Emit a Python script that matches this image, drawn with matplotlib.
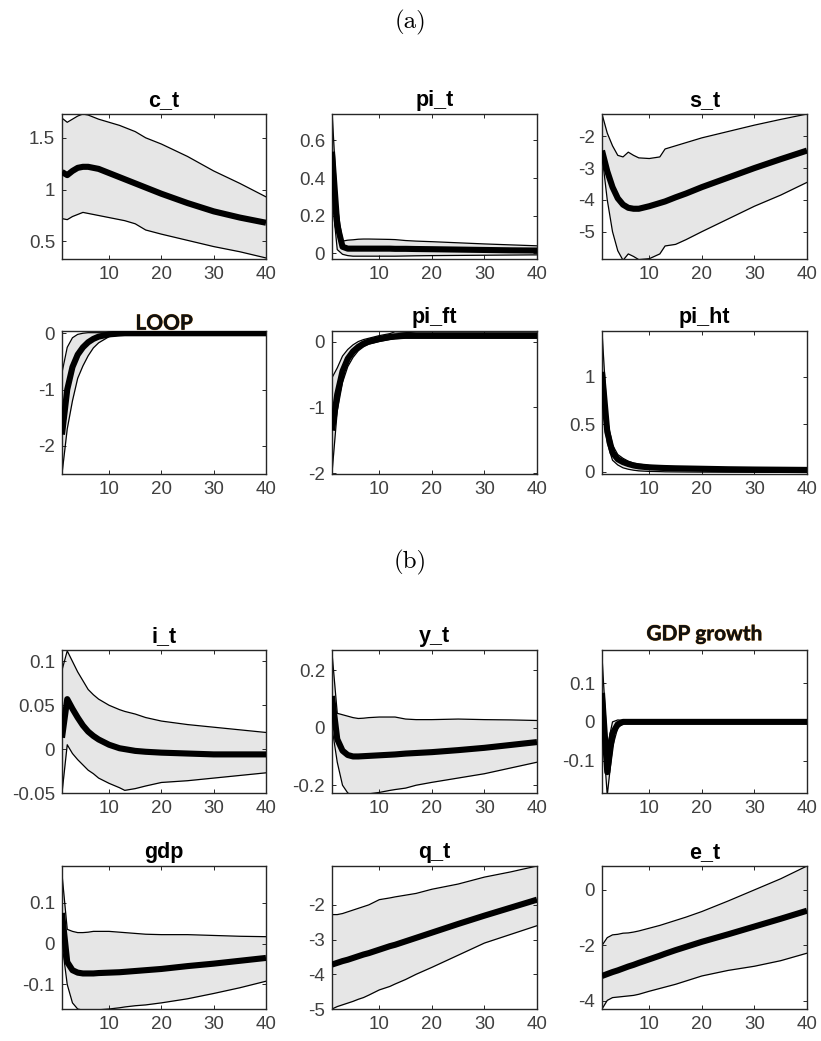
import matplotlib
matplotlib.use("Agg")
import matplotlib.pyplot as plt
import matplotlib.patheffects as pe

x = [1, 2, 3, 4, 5, 6, 7, 8, 10, 12, 13, 15, 17, 20, 25, 30, 35, 40]

# ---- panel (a) ----
c_t_med = [1.17, 1.14, 1.18, 1.21, 1.22, 1.22, 1.21, 1.20, 1.16, 1.12, 1.10, 1.06, 1.02, 0.96, 0.87, 0.79, 0.73, 0.68]
c_t_up = [1.69, 1.65, 1.68, 1.71, 1.73, 1.72, 1.70, 1.68, 1.65, 1.62, 1.60, 1.56, 1.50, 1.44, 1.32, 1.18, 1.06, 0.93]
c_t_lo = [0.72, 0.71, 0.74, 0.76, 0.78, 0.77, 0.76, 0.75, 0.73, 0.71, 0.70, 0.67, 0.61, 0.57, 0.51, 0.45, 0.40, 0.34]

pi_t_med = [0.54, 0.15, 0.035, 0.025, 0.025, 0.025, 0.025, 0.025, 0.025, 0.025, 0.024, 0.024, 0.023, 0.022, 0.020, 0.018, 0.016, 0.015]
pi_t_up = [0.76, 0.25, 0.065, 0.070, 0.072, 0.075, 0.076, 0.076, 0.075, 0.074, 0.073, 0.068, 0.065, 0.062, 0.056, 0.050, 0.045, 0.040]
pi_t_lo = [0.30, 0.02, -0.005, -0.012, -0.015, -0.015, -0.015, -0.015, -0.015, -0.015, -0.015, -0.014, -0.013, -0.012, -0.011, -0.010, -0.009, -0.008]

s_t_med = [-2.45, -3.10, -3.60, -3.95, -4.15, -4.25, -4.28, -4.28, -4.20, -4.10, -4.05, -3.92, -3.80, -3.60, -3.30, -3.00, -2.72, -2.45]
s_t_up = [-1.30, -1.90, -2.30, -2.60, -2.65, -2.50, -2.60, -2.68, -2.70, -2.65, -2.40, -2.30, -2.20, -2.05, -1.85, -1.65, -1.47, -1.30]
s_t_lo = [-2.60, -4.00, -5.00, -5.60, -5.90, -5.70, -5.78, -5.88, -5.85, -5.70, -5.45, -5.40, -5.25, -5.00, -4.60, -4.20, -3.85, -3.45]

loop_med = [-1.80, -1.00, -0.60, -0.38, -0.25, -0.16, -0.10, -0.06, -0.02, -0.005, 0.0, 0.0, 0.0, 0.0, 0.0, 0.0, 0.0, 0.0]
loop_up = [-0.70, -0.25, -0.08, -0.02, 0.0, 0.01, 0.01, 0.01, 0.01, 0.01, 0.01, 0.01, 0.01, 0.01, 0.01, 0.01, 0.01, 0.01]
loop_lo = [-2.50, -1.70, -1.20, -0.80, -0.58, -0.40, -0.26, -0.17, -0.06, -0.03, -0.02, -0.01, -0.005, -0.005, -0.005, -0.005, -0.005, -0.005]

pi_ft_med = [-1.35, -0.80, -0.45, -0.26, -0.15, -0.08, -0.03, 0.0, 0.04, 0.07, 0.08, 0.09, 0.09, 0.09, 0.09, 0.09, 0.09, 0.09]
pi_ft_up = [-0.55, -0.40, -0.22, -0.12, -0.05, 0.0, 0.03, 0.05, 0.09, 0.12, 0.15, 0.14, 0.13, 0.13, 0.13, 0.13, 0.13, 0.13]
pi_ft_lo = [-2.00, -1.05, -0.62, -0.38, -0.24, -0.14, -0.08, -0.04, 0.0, 0.03, 0.04, 0.05, 0.05, 0.05, 0.05, 0.05, 0.05, 0.05]

pi_ht_med = [1.05, 0.42, 0.20, 0.13, 0.10, 0.08, 0.065, 0.055, 0.045, 0.040, 0.038, 0.035, 0.033, 0.030, 0.025, 0.022, 0.020, 0.018]
pi_ht_up = [1.48, 0.55, 0.28, 0.18, 0.14, 0.11, 0.09, 0.08, 0.065, 0.058, 0.055, 0.050, 0.048, 0.045, 0.040, 0.035, 0.032, 0.030]
pi_ht_lo = [0.75, 0.30, 0.12, 0.07, 0.04, 0.025, 0.015, 0.008, 0.002, 0.0, -0.002, -0.003, -0.004, -0.005, -0.006, -0.007, -0.008, -0.010]

# ---- panel (b) ----
i_t_med = [0.013, 0.057, 0.046, 0.036, 0.027, 0.020, 0.015, 0.011, 0.005, 0.001, 0.0, -0.002, -0.003, -0.004, -0.005, -0.006, -0.006, -0.006]
i_t_up = [0.090, 0.112, 0.100, 0.088, 0.078, 0.068, 0.062, 0.057, 0.050, 0.045, 0.043, 0.040, 0.036, 0.032, 0.028, 0.025, 0.022, 0.019]
i_t_lo = [-0.050, 0.005, -0.005, -0.012, -0.018, -0.024, -0.028, -0.033, -0.039, -0.044, -0.047, -0.045, -0.042, -0.038, -0.036, -0.033, -0.030, -0.027]

y_t_med = [0.11, -0.04, -0.08, -0.095, -0.10, -0.10, -0.099, -0.098, -0.096, -0.094, -0.093, -0.090, -0.088, -0.085, -0.078, -0.070, -0.060, -0.050]
y_t_up = [0.26, 0.05, 0.045, 0.040, 0.035, 0.032, 0.033, 0.035, 0.037, 0.037, 0.037, 0.030, 0.028, 0.028, 0.030, 0.028, 0.027, 0.025]
y_t_lo = [0.0, -0.12, -0.20, -0.227, -0.235, -0.235, -0.232, -0.230, -0.225, -0.218, -0.215, -0.210, -0.200, -0.190, -0.175, -0.160, -0.140, -0.120]

gdpg_med = [0.075, -0.13, -0.03, -0.006, 0.0, 0.0, 0.0, 0.0, 0.0, 0.0, 0.0, 0.0, 0.0, 0.0, 0.0, 0.0, 0.0, 0.0]
gdpg_up = [0.17, -0.065, 0.0, 0.005, 0.004, 0.003, 0.002, 0.002, 0.002, 0.002, 0.002, 0.002, 0.002, 0.002, 0.002, 0.002, 0.002, 0.002]
gdpg_lo = [0.0, -0.19, -0.065, -0.015, -0.005, -0.002, -0.002, -0.002, -0.002, -0.002, -0.002, -0.002, -0.002, -0.002, -0.002, -0.002, -0.002, -0.002]

gdp_med = [0.075, -0.045, -0.065, -0.071, -0.073, -0.073, -0.073, -0.072, -0.071, -0.070, -0.069, -0.067, -0.065, -0.062, -0.055, -0.049, -0.042, -0.035]
gdp_up = [0.17, 0.035, 0.030, 0.027, 0.027, 0.028, 0.030, 0.030, 0.030, 0.028, 0.027, 0.025, 0.023, 0.022, 0.022, 0.020, 0.018, 0.017]
gdp_lo = [0.0, -0.10, -0.145, -0.16, -0.163, -0.163, -0.163, -0.162, -0.160, -0.157, -0.155, -0.152, -0.150, -0.145, -0.135, -0.122, -0.108, -0.092]

q_t_med = [-3.72, -3.67, -3.62, -3.58, -3.53, -3.48, -3.43, -3.39, -3.29, -3.19, -3.15, -3.05, -2.95, -2.80, -2.55, -2.31, -2.08, -1.85]
q_t_up = [-2.28, -2.28, -2.25, -2.20, -2.15, -2.10, -2.05, -2.00, -1.85, -1.80, -1.77, -1.72, -1.67, -1.55, -1.40, -1.20, -1.05, -0.88]
q_t_lo = [-5.00, -4.93, -4.88, -4.83, -4.78, -4.72, -4.67, -4.60, -4.45, -4.35, -4.28, -4.15, -4.00, -3.80, -3.45, -3.10, -2.85, -2.60]

e_t_med = [-3.10, -3.03, -2.96, -2.90, -2.83, -2.76, -2.70, -2.63, -2.50, -2.37, -2.30, -2.17, -2.05, -1.87, -1.60, -1.32, -1.04, -0.75]
e_t_up = [-2.00, -1.72, -1.62, -1.60, -1.56, -1.55, -1.52, -1.48, -1.38, -1.28, -1.22, -1.10, -0.98, -0.78, -0.40, 0.0, 0.40, 0.86]
e_t_lo = [-4.29, -3.98, -3.88, -3.86, -3.84, -3.82, -3.80, -3.76, -3.65, -3.55, -3.50, -3.40, -3.28, -3.10, -2.90, -2.75, -2.55, -2.28]

titles = ["c_t", "pi_t", "s_t", "LOOP", "pi_ft", "pi_ht",
          "i_t", "y_t", "GDP growth", "gdp", "q_t", "e_t"]
series = [(c_t_med, c_t_up, c_t_lo), (pi_t_med, pi_t_up, pi_t_lo), (s_t_med, s_t_up, s_t_lo),
          (loop_med, loop_up, loop_lo), (pi_ft_med, pi_ft_up, pi_ft_lo), (pi_ht_med, pi_ht_up, pi_ht_lo),
          (i_t_med, i_t_up, i_t_lo), (y_t_med, y_t_up, y_t_lo), (gdpg_med, gdpg_up, gdpg_lo),
          (gdp_med, gdp_up, gdp_lo), (q_t_med, q_t_up, q_t_lo), (e_t_med, e_t_up, e_t_lo)]
ylims = [(0.33, 1.73), (-0.03, 0.74), (-5.86, -1.3),
         (-2.5, 0.04), (-2.01, 0.16), (-0.025, 1.48),
         (-0.05, 0.113), (-0.227, 0.27), (-0.184, 0.186),
         (-0.16, 0.19), (-5.0, -0.88), (-4.29, 0.86)]
yticks = [[0.5, 1, 1.5], [0, 0.2, 0.4, 0.6], [-5, -4, -3, -2],
          [-2, -1, 0], [-2, -1, 0], [0, 0.5, 1],
          [-0.05, 0, 0.05, 0.1], [-0.2, 0, 0.2], [-0.1, 0, 0.1],
          [-0.1, 0, 0.1], [-5, -4, -3, -2], [-4, -2, 0]]
yticklabels = [["0.5", "1", "1.5"], ["0", "0.2", "0.4", "0.6"], ["-5", "-4", "-3", "-2"],
               ["-2", "-1", "0"], ["-2", "-1", "0"], ["0", "0.5", "1"],
               ["-0.05", "0", "0.05", "0.1"], ["-0.2", "0", "0.2"], ["-0.1", "0", "0.1"],
               ["-0.1", "0", "0.1"], ["-5", "-4", "-3", "-2"], ["-4", "-2", "0"]]
xticks = [10, 20, 30, 40]
xticklabels = ["10", "20", "30", "40"]

W, H = 821, 1041
fig = plt.figure(figsize=(W / 100, H / 100), dpi=100)

cols = [(62, 266), (332, 537), (602, 807)]
rows = [(114, 259), (331, 474), (650, 793), (866, 1009)]

axcol = "#262626"
txtcol = "#404040"

for k in range(12):
    r, c = divmod(k, 3)
    (l, rr), (t, b) = cols[c], rows[r]
    ax = fig.add_axes([l / W, 1 - b / H, (rr - l) / W, (b - t) / H])
    med, up, lo = series[k]
    ax.fill_between(x, lo, up, color="#e6e6e6", lw=0, zorder=1)
    ax.plot(x, up, color="black", lw=0.9, zorder=2)
    ax.plot(x, lo, color="black", lw=0.9, zorder=2)
    ax.plot(x, med, color="black", lw=4.4, zorder=3, solid_capstyle="butt")
    ax.set_xlim(1, 40)
    ax.set_ylim(*ylims[k])
    ax.set_xticks(xticks)
    ax.set_xticklabels(xticklabels)
    ax.set_yticks(yticks[k])
    ax.set_yticklabels(yticklabels[k])
    ax.tick_params(direction="in", length=3, width=0.7, color=axcol,
                   top=True, right=True, labelsize=13.5, labelcolor=txtcol, pad=5)
    for lab in ax.get_xticklabels() + ax.get_yticklabels():
        lab.set_fontfamily("Liberation Sans")
    for sp in ax.spines.values():
        sp.set_color(axcol)
        sp.set_linewidth(1.0)
    if titles[k] in ("LOOP", "GDP growth"):
        tpad = 1 if titles[k] == "LOOP" else 7
        tt = ax.set_title(titles[k], fontsize=15, fontweight="bold",
                          family="Lato", color="#111111", pad=tpad)
        tt.set_path_effects([pe.withStroke(linewidth=0.7, foreground="#d9a45a"), pe.Normal()])
    else:
        ax.set_title(titles[k], fontsize=15.5, fontweight="bold",
                     family="Liberation Sans", color="black", pad=6)

fig.text(410 / W, 1 - 22 / H, "(a)", ha="center", va="center", fontsize=18, family="cmr10")
fig.text(410 / W, 1 - 562 / H, "(b)", ha="center", va="center", fontsize=18, family="cmr10")

fig.savefig("out.png", dpi=100, facecolor="white")
